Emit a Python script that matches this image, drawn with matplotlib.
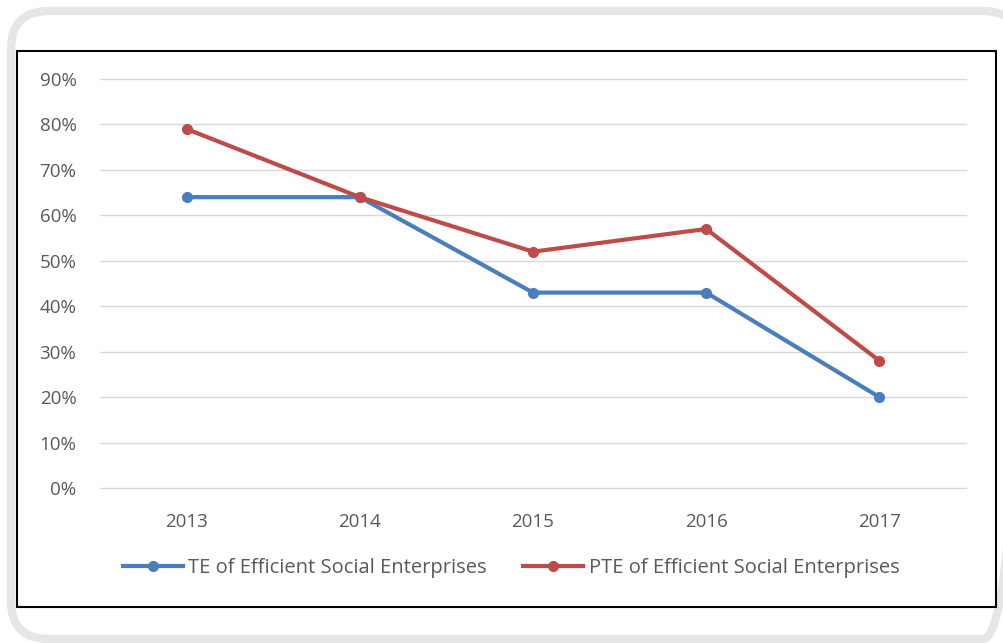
import numpy as np
import matplotlib
matplotlib.use("Agg")
import matplotlib.pyplot as plt
from matplotlib.patches import FancyBboxPatch, Rectangle
from matplotlib.ticker import PercentFormatter

# data
years = ["2013", "2014", "2015", "2016", "2017"]
te_values = [0.64, 0.64, 0.43, 0.43, 0.20]
pte_values = [0.79, 0.64, 0.52, 0.57, 0.28]
y_ticks = [0.0, 0.1, 0.2, 0.3, 0.4, 0.5, 0.6, 0.7, 0.8, 0.9]

BLUE = "#4A7EBB"
RED = "#BE4B48"
TEXT = "#595959"
GRID = "#D9D9D9"

plt.rcParams["font.family"] = ["Open Sans", "DejaVu Sans"]

W, H = 1004, 643
fig = plt.figure(figsize=(W / 100, H / 100), dpi=100)

# background layer in pixel units for the frames
bg = fig.add_axes([0, 0, 1, 1], zorder=-1)
bg.set_xlim(0, W)
bg.set_ylim(H, 0)
bg.axis("off")
bg.add_patch(FancyBboxPatch((11, 11), 1010, 628, boxstyle="round,pad=0,rounding_size=38",
                            fill=False, edgecolor="#E6E6E6", linewidth=6))
bg.add_patch(Rectangle((17.5, 50.5), 979, 556, fill=False, edgecolor="black", linewidth=1.5))

# plot area
ax = fig.add_axes([100 / W, 1 - 488 / H, (966 - 100) / W, (488 - 79) / H])
x = np.arange(len(years))
ax.plot(x, te_values, color=BLUE, lw=3, marker="o", ms=7,
        label="TE of Efficient Social Enterprises", clip_on=False, zorder=3)
ax.plot(x, pte_values, color=RED, lw=3, marker="o", ms=7,
        label="PTE of Efficient Social Enterprises", clip_on=False, zorder=4)

ax.set_xlim(-0.5, len(years) - 0.5)
ax.set_ylim(0, 0.9)
ax.set_xticks(x)
ax.set_xticklabels(years)
ax.set_yticks(y_ticks)
ax.yaxis.set_major_formatter(PercentFormatter(1.0, decimals=0))
ax.tick_params(axis="both", length=0, labelsize=13.5, colors=TEXT)
ax.tick_params(axis="x", pad=18)
ax.tick_params(axis="y", pad=17)
ax.grid(axis="y", color=GRID, lw=1)
for gl in ax.get_ygridlines():
    gl.set_clip_on(False)
ax.set_axisbelow(True)
for s in ax.spines.values():
    s.set_visible(False)

leg = fig.legend(loc="center", bbox_to_anchor=(511 / W, 1 - 568 / H), ncol=2,
                 frameon=False, fontsize=14.5, handlelength=3.0, handletextpad=0.25,
                 columnspacing=1.8, labelcolor=TEXT)

fig.savefig("out.png", dpi=100)
